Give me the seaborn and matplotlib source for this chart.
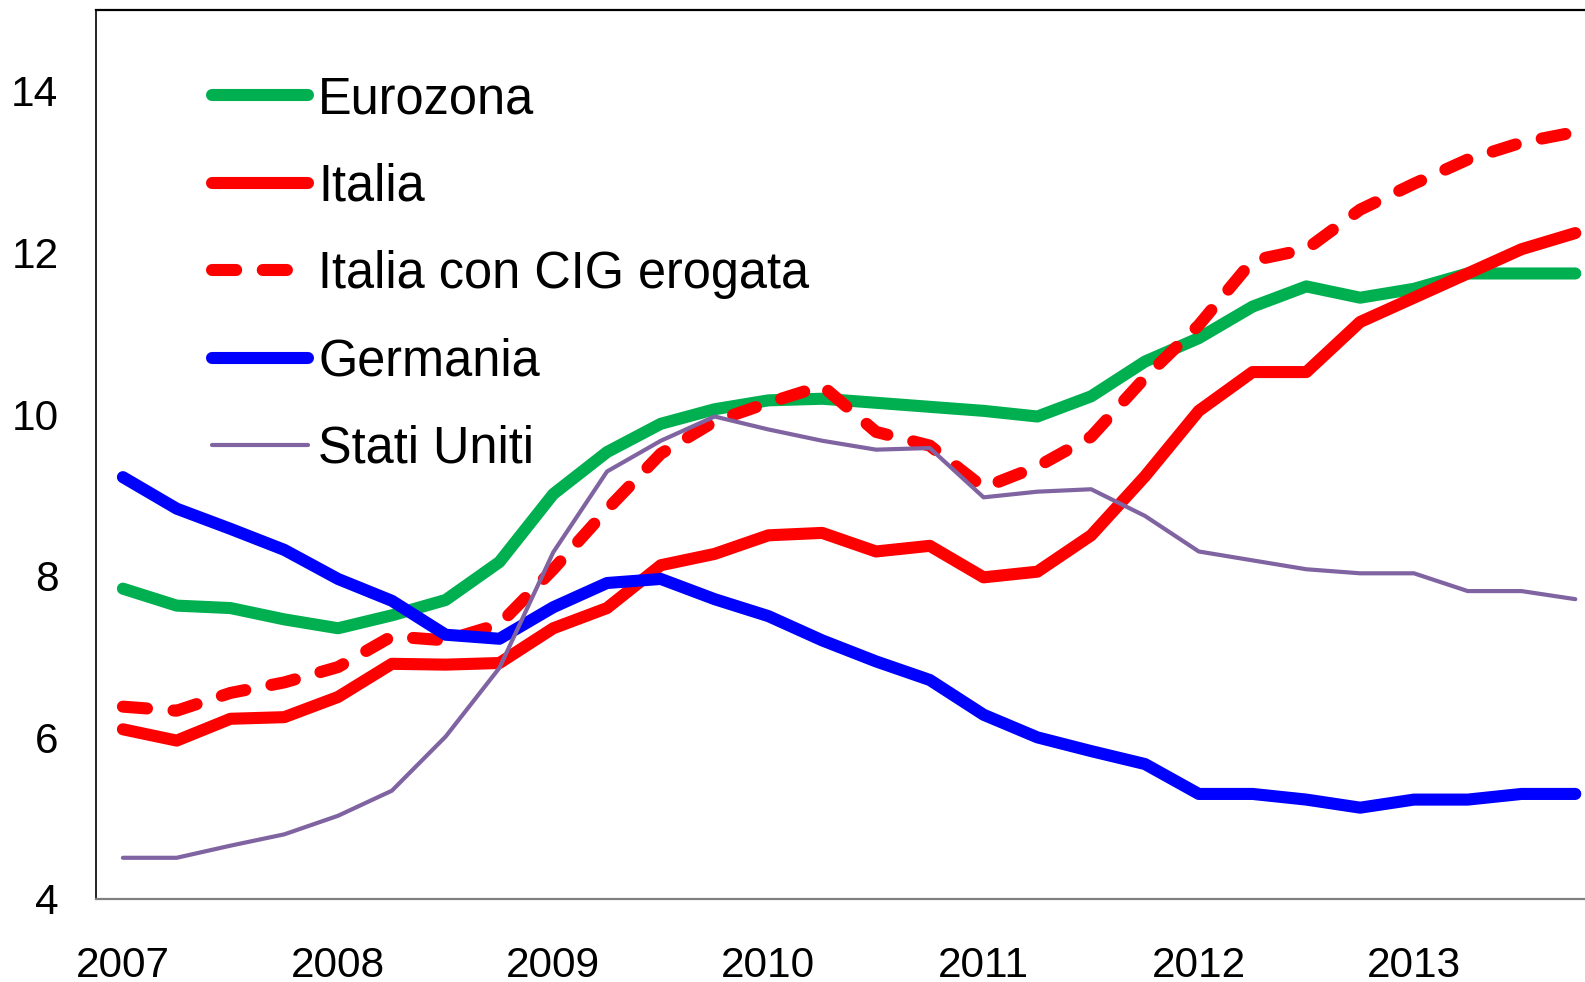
import numpy as np
import pandas as pd
import seaborn as sns
import matplotlib.pyplot as plt

sns.set_style("white")
plt.rcParams['font.family'] = ['Liberation Sans', 'DejaVu Sans']
plt.rcParams['text.color'] = 'black'

# quarterly data, 2007Q1 .. 2013Q4
quarters = np.arange(28)
year_labels = ['2007', '2008', '2009', '2010', '2011', '2012', '2013']

eurozona = [7.84, 7.63, 7.60, 7.46, 7.35, 7.51, 7.70, 8.17, 9.01, 9.53, 9.88, 10.06, 10.17, 10.19,
            10.14, 10.09, 10.04, 9.97, 10.22, 10.65, 10.94, 11.33, 11.58, 11.44, 11.55, 11.74, 11.74, 11.74]
italia = [6.10, 5.96, 6.23, 6.25, 6.50, 6.91, 6.90, 6.92, 7.35, 7.60, 8.13, 8.27, 8.50, 8.53,
          8.30, 8.37, 7.98, 8.05, 8.50, 9.23, 10.04, 10.52, 10.52, 11.14, 11.44, 11.74, 12.04, 12.24]
italia_cig = [6.38, 6.33, 6.55, 6.68, 6.87, 7.25, 7.20, 7.40, 8.08, 8.82, 9.51, 9.91, 10.14, 10.35,
              9.78, 9.61, 9.09, 9.35, 9.72, 10.45, 11.10, 11.90, 12.04, 12.53, 12.85, 13.15, 13.36, 13.49]
germania = [9.22, 8.83, 8.58, 8.32, 7.96, 7.69, 7.27, 7.22, 7.61, 7.91, 7.96, 7.71, 7.50, 7.20,
            6.94, 6.71, 6.28, 6.00, 5.83, 5.67, 5.30, 5.30, 5.23, 5.13, 5.23, 5.23, 5.30, 5.30]
stati_uniti = [4.51, 4.51, 4.66, 4.80, 5.03, 5.34, 6.01, 6.86, 8.29, 9.29, 9.67, 9.97, 9.81, 9.67,
               9.56, 9.58, 8.97, 9.04, 9.07, 8.74, 8.30, 8.19, 8.08, 8.03, 8.03, 7.81, 7.81, 7.71]

fig = plt.figure(figsize=(15.85, 9.82), dpi=100)
ax = fig.add_axes([96 / 1585, 1 - 899 / 982, 1 - 96 / 1585, (899 - 10) / 982])

series = [
    ('Eurozona', eurozona, '#00B050', 8.7, None),
    ('Italia', italia, '#FF0000', 8.7, None),
    ('Italia con CIG erogata', italia_cig, '#FF0000', 8.7, (2.0, 2.2)),
    ('Germania', germania, '#0000FF', 8.7, None),
    ('Stati Uniti', stati_uniti, '#8064A2', 3.0, None),
]

for name, vals, color, lw, dash in series:
    sns.lineplot(x=quarters, y=vals, ax=ax, color=color, linewidth=lw, label=name)
    line = ax.get_lines()[-1]
    line.set_solid_capstyle('round')
    if dash is not None:
        line.set_dashes(dash)
        line.set_dash_capstyle('round')

ax.set_xlim(-0.5, 27.18)
ax.set_ylim(4, 15)
ax.set_yticks([4, 6, 8, 10, 12, 14])
ax.set_xticks(quarters[::4])
ax.set_xticklabels(year_labels)
ax.tick_params(axis='y', length=0, pad=27, labelsize=30.5, labelcolor='black')
ax.tick_params(axis='x', length=0, pad=34, labelsize=30.5, labelcolor='black')

for s in ['left', 'top']:
    ax.spines[s].set_color('black')
ax.spines['left'].set_linewidth(1.2)
ax.spines['top'].set_linewidth(1.6)
ax.spines['bottom'].set_color('#808080')
ax.spines['bottom'].set_linewidth(1.6)
ax.spines['right'].set_visible(False)

ax.legend(loc='upper left', bbox_to_anchor=(212 / 1585, 1 - 75 / 982), bbox_transform=fig.transFigure,
          frameon=False, fontsize=36.4, handlelength=1.9, handletextpad=0.2, labelspacing=0.76,
          borderpad=0, borderaxespad=0)
ax.set_xlabel('')
ax.set_ylabel('')

fig.savefig('out.png', dpi=100)
